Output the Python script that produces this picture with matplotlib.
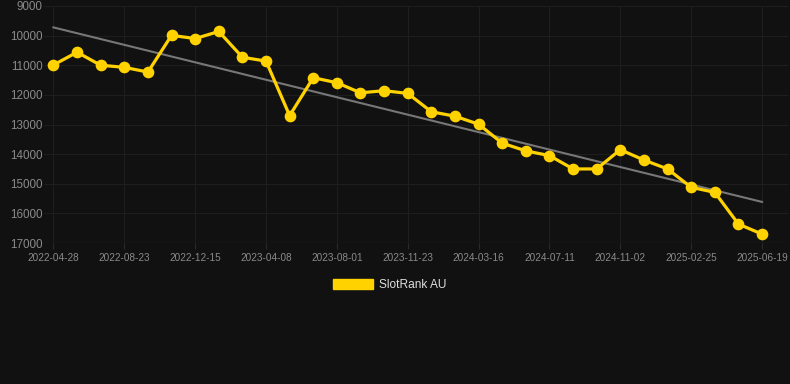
import matplotlib
matplotlib.use("Agg")
import matplotlib.pyplot as plt
from matplotlib.patches import Rectangle
import numpy as np

# rank per period (lower on chart = worse rank)
ranks = [10990, 10560, 11000, 11070, 11230, 9990, 10100, 9860, 10730, 10860,
         12700, 11420, 11590, 11930, 11860, 11950, 12570, 12720, 12990, 13630,
         13890, 14050, 14500, 14500, 13850, 14200, 14500, 15120, 15290, 16360,
         16700]
tick_labels = ['2022-04-28', '2022-08-23', '2022-12-15', '2023-04-08',
               '2023-08-01', '2023-11-23', '2024-03-16', '2024-07-11',
               '2024-11-02', '2025-02-25', '2025-06-19']
y_ticks = [9000, 10000, 11000, 12000, 13000, 14000, 15000, 16000, 17000]

bg = '#111111'
yellow = '#ffd200'

plt.rcParams['font.family'] = ['Liberation Sans', 'DejaVu Sans']

fig = plt.figure(figsize=(7.9, 3.84), dpi=100, facecolor=bg)
W, H = 790, 384
ax = fig.add_axes([44 / W, (384 - 243) / H, (788 - 44) / W, (243 - 6) / H])
ax.set_facecolor(bg)

x = np.arange(len(ranks))

# trend line
k, b = np.polyfit(x, ranks, 1)
ax.plot(x, k * x + b, color='#777777', lw=1.5, zorder=2)

ax.plot(x, ranks, color=yellow, lw=2.3, marker='o', ms=7.4, zorder=3)

ax.set_ylim(17000, 9000)
ax.set_xlim(-0.4, 31.1)
ax.set_yticks(y_ticks)
ax.set_yticklabels([str(v) for v in y_ticks])
ax.set_xticks(x[::3])
ax.set_xticklabels(tick_labels)

ax.grid(True, color='#1e1e1e', lw=0.8)
ax.set_axisbelow(True)
for s in ax.spines.values():
    s.set_visible(False)
ax.axhline(17000, color='#2a2a2a', lw=0.9, zorder=1)

ax.tick_params(axis='y', length=0, pad=1, labelsize=8.4, colors='#8a8a8a')
ax.tick_params(axis='x', length=4, width=0.8, color='#2a2a2a', pad=3,
               labelsize=7.2, labelcolor='#8a8a8a')

# legend: filled box + label
fig.patches.append(Rectangle((333 / W, 1 - 289 / H), 40 / W, 10 / H,
                             transform=fig.transFigure, color=yellow))
fig.text(379 / W, 1 - 284.5 / H, 'SlotRank AU', color='#dddddd', fontsize=8.6,
         va='center', ha='left')

fig.savefig('out.png', dpi=100, facecolor=bg)
